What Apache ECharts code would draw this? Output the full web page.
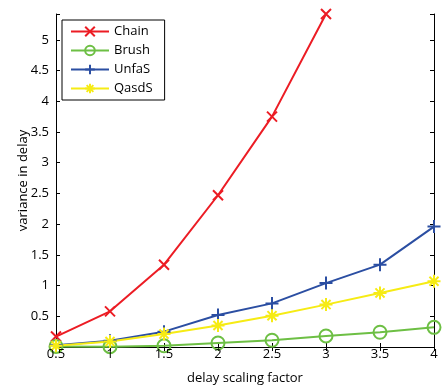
<!DOCTYPE html>
<html>
<head>
<meta charset="utf-8">
<script src="https://cdn.jsdelivr.net/npm/echarts@6/dist/echarts.min.js"></script>
<style>
html,body{margin:0;padding:0;background:#fff;}
#c{width:444px;height:390px;}
</style>
</head>
<body>
<div id="c"></div>
<script>
const xValues = [0.5, 1, 1.5, 2, 2.5, 3, 3.5, 4];
const chain = [0.17, 0.58, 1.34, 2.47, 3.75, 5.42];
const brush = [0.01, 0.005, 0.02, 0.065, 0.11, 0.18, 0.24, 0.32];
const unfas = [0.03, 0.1, 0.25, 0.52, 0.71, 1.04, 1.34, 1.96];
const qasds = [0.02, 0.09, 0.21, 0.35, 0.51, 0.69, 0.88, 1.07];
const seriesNames = ['Chain', 'Brush', 'UnfaS', 'QasdS'];
const xTicks = ['0.5', '1', '1.5', '2', '2.5', '3', '3.5', '4'];
const yTicks = [0.5, 1, 1.5, 2, 2.5, 3, 3.5, 4, 4.5, 5];

const colors = {Chain: '#ec1c24', Brush: '#6dbf44', UnfaS: '#2b4ea2', QasdS: '#f6eb14'};
const FONT = 'Open Sans';

const symX = 'path://M0,0L10,10M10,0L0,10';
const symPlus = 'path://M5,0L5,10M0,5L10,5';
const symStar = 'path://M5,0L5,10M0,5L10,5M1.5,1.5L8.5,8.5M8.5,1.5L1.5,8.5';

function pairs(vals) { return vals.map((v, i) => [xValues[i], v]); }

function mk(name, vals, symbol, size, extra) {
  const c = colors[name];
  return Object.assign({
    name: name,
    type: 'line',
    data: pairs(vals),
    symbol: symbol,
    symbolSize: size,
    showAllSymbol: true,
    clip: false,
    lineStyle: {color: c, width: 2},
    itemStyle: {color: c, borderColor: c, borderWidth: 2},
    emphasis: {disabled: true},
    animation: false
  }, extra || {});
}

const chart = echarts.init(document.getElementById('c'), null, {renderer: 'canvas'});
const axisCommon = {
  axisLine: {show: true, lineStyle: {color: '#000', width: 1}},
  axisTick: {show: true, inside: true, length: 4, lineStyle: {color: '#000'}},
  splitLine: {show: false}
};
const X_MIN = 0.5, X_MAX = 4, Y_MIN = 0, Y_MAX = 5.42;
chart.setOption({
  backgroundColor: '#fff',
  animation: false,
  grid: {left: 56, right: 10, top: 14, bottom: 42},
  legend: {
    left: 62, top: 20,
    orient: 'vertical',
    data: seriesNames,
    itemWidth: 38, itemHeight: 12, itemGap: 6,
    padding: [5, 12, 5, 8],
    borderColor: '#000', borderWidth: 1,
    backgroundColor: '#fff',
    textStyle: {fontFamily: FONT, fontSize: 13, color: '#000'}
  },
  xAxis: [
    Object.assign({}, axisCommon, {
      type: 'value', min: X_MIN, max: X_MAX, interval: 0.5, position: 'bottom',
      name: 'delay scaling factor', nameLocation: 'middle', nameGap: 25,
      nameTextStyle: {fontFamily: FONT, fontSize: 13, color: '#000'},
      axisLabel: {show: false}
    }),
    Object.assign({}, axisCommon, {
      type: 'value', min: X_MIN, max: X_MAX, interval: 0.5, position: 'top',
      axisLabel: {show: false}
    })
  ],
  yAxis: [
    Object.assign({}, axisCommon, {
      type: 'value', min: Y_MIN, max: Y_MAX, interval: 0.5, position: 'left',
      name: 'variance in delay', nameLocation: 'middle', nameGap: 26, nameMoveOverlap: false,
      nameTextStyle: {fontFamily: FONT, fontSize: 13, color: '#000'},
      axisLabel: {fontFamily: FONT, fontSize: 13, color: '#000', margin: 7,
        showMinLabel: false,
        formatter: v => yTicks.indexOf(+(+v).toFixed(2)) >= 0 ? String(v) : ''}
    }),
    Object.assign({}, axisCommon, {
      type: 'value', min: Y_MIN, max: Y_MAX, interval: 0.5, position: 'right',
      axisLabel: {show: false}
    })
  ],
  series: [
    mk('Chain', chain, symX, 10),
    mk('Brush', brush, 'circle', 13, {itemStyle: {color: 'rgba(255,255,255,0)', borderColor: colors.Brush, borderWidth: 2}}),
    mk('UnfaS', unfas, symPlus, 13),
    mk('QasdS', qasds, symStar, 13)
  ]
});

// x tick labels placed through the axis scale
const labelEls = xTicks.map(t => {
  const p = chart.convertToPixel({xAxisIndex: 0, yAxisIndex: 0}, [parseFloat(t), Y_MIN]);
  return {
    type: 'text', x: p[0], y: p[1] + 1, z: 100,
    style: {text: t, fontFamily: FONT, fontSize: 13, fill: '#000', align: 'center', verticalAlign: 'top'}
  };
});
chart.setOption({graphic: {elements: labelEls}});
</script>
</body>
</html>
